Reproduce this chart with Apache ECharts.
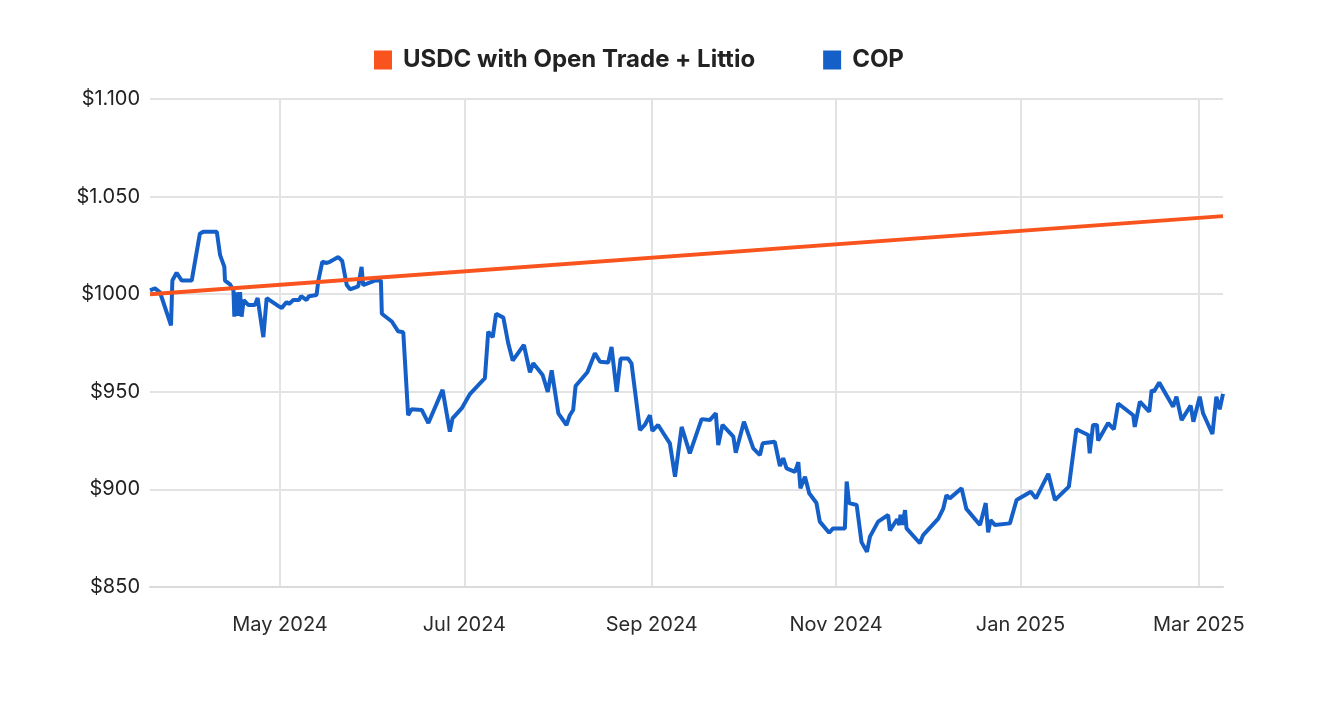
<!DOCTYPE html>
<html>
<head>
<meta charset="utf-8">
<title>USDC vs COP</title>
<script src="https://cdn.jsdelivr.net/npm/echarts@6/dist/echarts.min.js"></script>
<style>
  html, body { margin: 0; padding: 0; background: #fff; }
  #chart-container { width: 1342px; height: 702px; }
</style>
</head>
<body>
<div id="chart-container"></div>
<script>
var DAY = 86400000;
var startDate = new Date(2024, 2, 19).getTime();

// days since startDate
var copDays = [
  0, 1.65, 3.3, 6.95, 7.4, 8.8, 10.5, 13.8, 16.5, 17.6, 20.4, 22.1, 23.2, 24.6, 24.8,
  26.5, 27.6, 27.9, 28.7, 29.0, 29.8, 30.3, 31.0, 32.5, 34.7, 35.6, 37.5, 38.6, 42.4,
  43.6, 45.2, 46.0, 47.4, 49.3, 50.0, 51.8, 52.6, 55.1, 55.7, 57.0, 58.5, 59.5, 62.3,
  63.6, 65.1, 66.2, 68.9, 70.0, 70.5, 72.0, 74.4, 76.4, 76.7, 80.0, 82.1, 83.8, 85.4,
  86.5, 89.9, 92.1, 96.8, 99.2, 100.1, 103.1, 105.9, 110.8, 111.9, 113.4, 114.5, 116.9,
  118.5, 120.0, 123.7, 125.7, 126.8, 129.9, 131.6, 132.9, 135.1, 137.8, 138.9, 140.0,
  140.8, 144.7, 147.2, 148.9, 151.6, 152.7, 154.4, 155.7, 158.2, 159.3, 162.1, 163.7,
  165.4, 166.2, 168.1, 172.0, 173.7, 175.9, 178.6, 182.5, 185.2, 187.2, 188.0, 189.4,
  193.0, 193.8, 196.5, 199.6, 201.8, 202.7, 206.7, 208.4, 209.5, 210.6, 213.4, 214.5,
  215.2, 216.7, 218.1, 220.5, 221.6, 224.7, 226.0, 229.9, 230.5, 231.3, 233.8, 235.4,
  237.2, 238.2, 240.9, 244.2, 244.8, 247.2, 247.9, 248.3, 249.0, 249.8, 250.3, 254.7,
  255.8, 260.8, 262.4, 263.5, 264.6, 268.5, 270.1, 274.6, 276.5, 277.3, 278.1, 279.5,
  284.5, 286.7, 291.4, 293.1, 297.2, 299.4, 304.0, 306.5, 310.4, 310.9, 312.0, 313.3,
  313.7, 317.0, 318.9, 320.3, 325.3, 325.8, 327.5, 330.6, 331.4, 332.1, 333.9, 338.5,
  339.6, 341.3, 344.3, 345.2, 347.3, 348.4, 351.5, 352.8, 353.9, 355.0
];
var copValues = [
  1002, 1003, 1001, 984, 1007, 1011, 1007, 1007, 1031, 1032, 1032, 1032, 1020, 1014, 1007,
  1005, 1002, 988.5, 1001, 989, 1001, 988.5, 997, 994.5, 994.5, 998, 978, 998, 994,
  993, 996, 995, 997, 997, 999, 997, 999, 999.6, 1007, 1016.6, 1016, 1016.6, 1019,
  1017, 1004.7, 1002.5, 1004, 1014, 1004.7, 1005.6, 1007, 1007, 990, 986, 981, 980.5, 938,
  941, 940.7, 934, 951, 929.6, 936.4, 941.5, 949, 957, 980.8, 978, 990, 988,
  975, 966, 974, 960, 964.6, 958.6, 950, 961, 939, 933, 938, 940.7,
  953, 960, 969.7, 965.4, 965, 973, 950, 967, 967, 964.6, 930.4, 933,
  938, 930, 933, 923.6, 906.5, 932, 918.5, 936, 935.5, 939, 922.7, 933,
  927, 918.8, 934.7, 921, 917.6, 923.6, 924.4, 912, 916, 910.8, 909, 914,
  900.6, 906.5, 898, 893, 883.5, 877.8, 880, 880, 904, 893, 892, 873,
  868, 875.8, 883.5, 886.9, 879, 884.7, 881.8, 887, 881.8, 889.4, 880, 872.4,
  876.6, 885, 890, 897, 895.4, 900.6, 890, 881.8, 893, 878, 884.3, 881.8,
  882.6, 894.6, 898.8, 895.4, 908, 894.6, 901.4, 930.8, 927.9, 918.5, 933, 933,
  925, 934, 930.8, 944, 938, 932, 945, 939.8, 951, 950, 954.7, 942.4,
  947.5, 935.5, 943, 934.7, 947.5, 939, 928.4, 947.5, 941, 948.9
];

var usdcDays = [0, 355];
var usdcValues = [1000, 1040];

var tickDates = [
  new Date(2024, 4, 1).getTime(),
  new Date(2024, 6, 1).getTime(),
  new Date(2024, 8, 1).getTime(),
  new Date(2024, 10, 1).getTime(),
  new Date(2025, 0, 1).getTime(),
  new Date(2025, 2, 1).getTime()
];
var tickLabels = ['May 2024', 'Jul 2024', 'Sep 2024', 'Nov 2024', 'Jan 2025', 'Mar 2025'];

var yTicks = [850, 900, 950, 1000, 1050, 1100];
var yLabels = ['$850', '$900', '$950', '$1000', '$1.050', '$1.100'];

function toPairs(days, values) {
  return days.map(function (d, i) { return [startDate + d * DAY, values[i]]; });
}

var dom = document.getElementById('chart-container');
var myChart = echarts.init(dom, null, { renderer: 'canvas' });

var font = 'Inter, "Noto Sans", sans-serif';
var gridColor = '#e3e3e3';

var option = {
  animation: false,
  textStyle: { fontFamily: font },
  legend: {
    left: 369,
    top: 43,
    itemWidth: 18,
    itemHeight: 19,
    itemGap: 68,
    icon: 'rect',
    data: ['USDC with Open Trade + Littio', 'COP'],
    textStyle: {
      fontSize: 24, fontWeight: 'bold', color: '#222', fontFamily: font,
      padding: [0, 0, 0, 6]
    }
  },
  grid: { left: 150, right: 119, top: 99, bottom: 115 },
  xAxis: {
    type: 'value',
    min: startDate,
    max: startDate + 355 * DAY,
    axisLine: { show: true, lineStyle: { color: '#dadada', width: 2 } },
    axisTick: { show: false, customValues: tickDates },
    splitLine: { show: true, lineStyle: { color: gridColor, width: 2 } },
    axisLabel: {
      customValues: tickDates,
      margin: 28,
      fontSize: 20,
      color: '#2a2a2a',
      fontFamily: font,
      formatter: function (v) {
        var i = tickDates.indexOf(v);
        return i >= 0 ? tickLabels[i] : '';
      }
    }
  },
  yAxis: {
    type: 'value',
    min: 850,
    max: 1100,
    interval: 50,
    axisLine: { show: false },
    axisTick: { show: false },
    splitLine: { lineStyle: { color: gridColor, width: 2 } },
    axisLabel: {
      margin: 10,
      fontSize: 20,
      color: '#222',
      fontFamily: font,
      formatter: function (v) {
        var i = yTicks.indexOf(v);
        return i >= 0 ? yLabels[i] : '';
      }
    }
  },
  series: [
    {
      name: 'COP',
      type: 'line',
      data: toPairs(copDays, copValues),
      showSymbol: false,
      color: '#1560c8',
      lineStyle: { width: 4, color: '#1560c8' },
      z: 2
    },
    {
      name: 'USDC with Open Trade + Littio',
      type: 'line',
      data: toPairs(usdcDays, usdcValues),
      showSymbol: false,
      color: '#f9531e',
      lineStyle: { width: 4, color: '#f9531e' },
      z: 3
    }
  ]
};

if (option && typeof option === 'object') {
  myChart.setOption(option);
}

window.addEventListener('resize', myChart.resize);
</script>
</body>
</html>
